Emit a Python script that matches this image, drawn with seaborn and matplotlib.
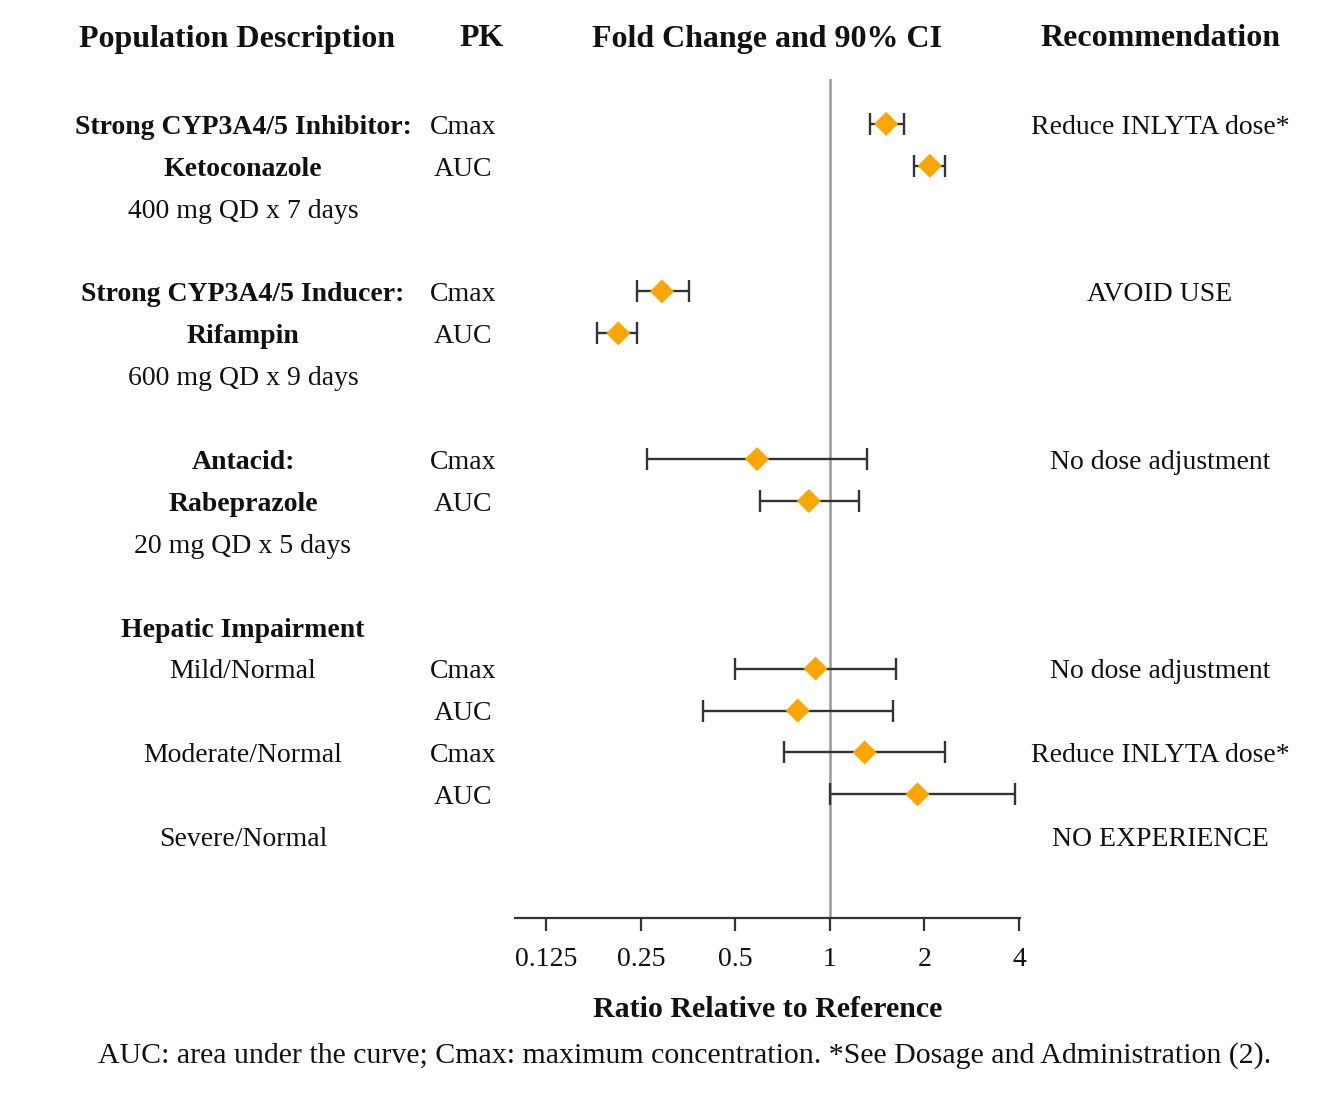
import numpy as np
import pandas as pd
import matplotlib
matplotlib.use("Agg")
import matplotlib.pyplot as plt
import matplotlib.transforms as mtransforms
import seaborn as sns

# rows of the table (0 = top), one PK line per estimate
est_rows = [0, 1, 4, 5, 8, 9, 13, 14, 15, 16]
est_pk = ["Cmax", "AUC", "Cmax", "AUC", "Cmax", "AUC", "Cmax", "AUC", "Cmax", "AUC"]
ratio = [1.51, 2.08, 0.292, 0.212, 0.586, 0.857, 0.90, 0.79, 1.29, 1.90]
ci_low = [1.34, 1.85, 0.243, 0.182, 0.262, 0.60, 0.50, 0.395, 0.714, 1.0]
ci_high = [1.72, 2.32, 0.356, 0.243, 1.31, 1.24, 1.62, 1.59, 2.32, 3.87]

# population description column
pop_rows = [0, 1, 2, 4, 5, 6, 8, 9, 10, 12, 13, 15, 17]
pop_text = ["Strong CYP3A4/5 Inhibitor:", "Ketoconazole", "400 mg QD x 7 days",
            "Strong CYP3A4/5 Inducer:", "Rifampin", "600 mg QD x 9 days",
            "Antacid:", "Rabeprazole", "20 mg QD x 5 days",
            "Hepatic Impairment", "Mild/Normal", "Moderate/Normal", "Severe/Normal"]
pop_bold = [True, True, False, True, True, False, True, True, False,
            True, False, False, False]

rec_rows = [0, 4, 8, 13, 15, 17]
rec_text = ["Reduce INLYTA dose*", "AVOID USE", "No dose adjustment",
            "No dose adjustment", "Reduce INLYTA dose*", "NO EXPERIENCE"]

xticks = [0.125, 0.25, 0.5, 1, 2, 4]
xtick_labels = ["0.125", "0.25", "0.5", "1", "2", "4"]

df = pd.DataFrame({"row": est_rows, "pk": est_pk, "ratio": ratio,
                   "lo": ci_low, "hi": ci_high})

sns.set_style("white")
plt.rcParams["font.family"] = ["Liberation Serif", "DejaVu Serif"]

W, H = 1325, 1096
fig = plt.figure(figsize=(W / 100, H / 100), dpi=100)
ax = fig.add_axes([515 / W, 1 - 918 / H, 505 / W, (918 - 79) / H])

# reference line at 1
ax.axvline(1, color="#999999", lw=1.8, zorder=1)

# confidence intervals
ax.errorbar(df["ratio"], df["row"],
            xerr=[df["ratio"] - df["lo"], df["hi"] - df["ratio"]],
            fmt="none", ecolor="#333333", elinewidth=1.7, capsize=8,
            capthick=1.7, zorder=2)
# point estimates
sns.scatterplot(data=df, x="ratio", y="row", marker="D", s=150,
                color="#FFA500", edgecolor="none", ax=ax, zorder=3)

ax.set_xscale("log", base=2)
ax.set_xlim(2 ** -3.33, 2 ** 2.01)
ax.set_ylim(18.95, -1.07)
ax.set_xticks(xticks)
ax.set_xticklabels(xtick_labels)
ax.minorticks_off()
ax.set_yticks([])
ax.set_ylabel("")
ax.set_xlabel("Ratio Relative to Reference", fontsize=21.5, fontweight="bold",
              labelpad=17, color="#111111")
for s in ["top", "right", "left"]:
    ax.spines[s].set_visible(False)
ax.spines["bottom"].set_color("#333333")
ax.spines["bottom"].set_linewidth(1.6)
ax.tick_params(axis="x", bottom=True, direction="out", length=9, width=1.6,
               color="#333333", labelsize=20, pad=12, labelcolor="#111111")

trans = mtransforms.blended_transform_factory(fig.transFigure, ax.transData)
off = 0.08  # small downward nudge so text sits on the row like the reference

for r, t, b in zip(pop_rows, pop_text, pop_bold):
    ax.text(243 / W, r + off, t, transform=trans, ha="center", va="center",
            fontsize=20, fontweight="bold" if b else "normal", color="#111111")

for r, t in zip(est_rows, est_pk):
    ax.text(463 / W, r + off, t, transform=trans, ha="center", va="center",
            fontsize=20, color="#111111")

for r, t in zip(rec_rows, rec_text):
    ax.text(1160 / W, r + off, t, transform=trans, ha="center", va="center",
            fontsize=20, color="#111111")

# column headers
hy = 1 - 39 / H
for x, t in [(237, "Population Description"), (482, "PK"),
             (767, "Fold Change and 90% CI"), (1160, "Recommendation")]:
    fig.text(x / W, hy, t, ha="center", va="center", fontsize=23,
             fontweight="bold", color="#111111")

fig.text(685 / W, 1 - 1056 / H,
         "AUC: area under the curve; Cmax: maximum concentration. "
         "*See Dosage and Administration (2).",
         ha="center", va="center", fontsize=21.5, color="#111111")

fig.savefig("out.png", dpi=100)
